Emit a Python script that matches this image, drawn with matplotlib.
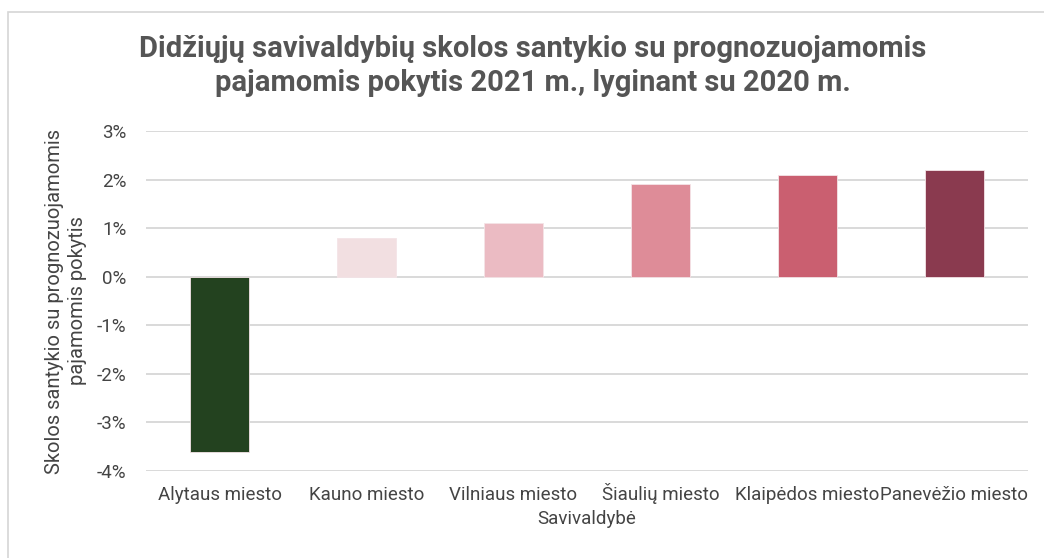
import matplotlib.pyplot as plt
from matplotlib.patches import Rectangle
from matplotlib.ticker import FuncFormatter

plt.rcParams['font.family'] = ['Roboto', 'DejaVu Sans']

categories = ['Alytaus miesto', 'Kauno miesto', 'Vilniaus miesto',
              'Šiaulių miesto', 'Klaipėdos miesto', 'Panevėžio miesto']
values = [-3.6, 0.8, 1.1, 1.9, 2.1, 2.2]
colors = ['#23421F', '#F2DFE1', '#EBBBC3', '#DE8C98', '#CA5F70', '#8A3A4F']
yticks = [-4, -3, -2, -1, 0, 1, 2, 3]

fig = plt.figure(figsize=(10.44, 5.58), dpi=100)
ax = fig.add_axes([146 / 1044, 1 - 471 / 558, 882 / 1044, 340 / 558])

# chart frame (partly cut off in the original)
fig.patches.append(Rectangle((8 / 1044, -0.1), 1.1, 1.1 - 12 / 558,
                             transform=fig.transFigure, fill=False,
                             edgecolor='#D6D6D6', linewidth=1.2))

x = list(range(len(categories)))
ax.bar(x, values, width=0.4, color=colors, edgecolor='#F4E4E7', linewidth=0.6, zorder=3)

ax.set_xlim(-0.5, len(categories) - 0.5)
ax.set_ylim(-4, 3)
ax.set_yticks(yticks)
ax.yaxis.set_major_formatter(FuncFormatter(lambda v, p: f'{v:.0f}%'))
ax.grid(axis='y', color='#D9D9D9', linewidth=1.4, zorder=0)
for s in ax.spines.values():
    s.set_visible(False)
ax.tick_params(length=0, labelsize=13.5, labelcolor='#444444')
ax.tick_params(axis='y', pad=14)
ax.tick_params(axis='x', pad=21)
ax.set_xticks(x)
ax.set_xticklabels(categories)
for lab in ax.get_xticklabels():
    lab.set_va('baseline')

ax.set_xlabel('Savivaldybė', fontsize=13.5, color='#444444', labelpad=4)
ax.set_ylabel('Skolos santykio su prognozuojamomis\npajamomis pokytis', fontsize=14.5,
              color='#444444', labelpad=7, linespacing=1.3)

fig.text(0.51, 0.882, 'Didžiųjų savivaldybių skolos santykio su prognozuojamomis\n'
         'pajamomis pokytis 2021 m., lyginant su 2020 m.',
         ha='center', va='center', fontsize=21, fontweight='bold', color='#555555',
         linespacing=1.3)

fig.savefig('out.png', dpi=100, facecolor='white')
